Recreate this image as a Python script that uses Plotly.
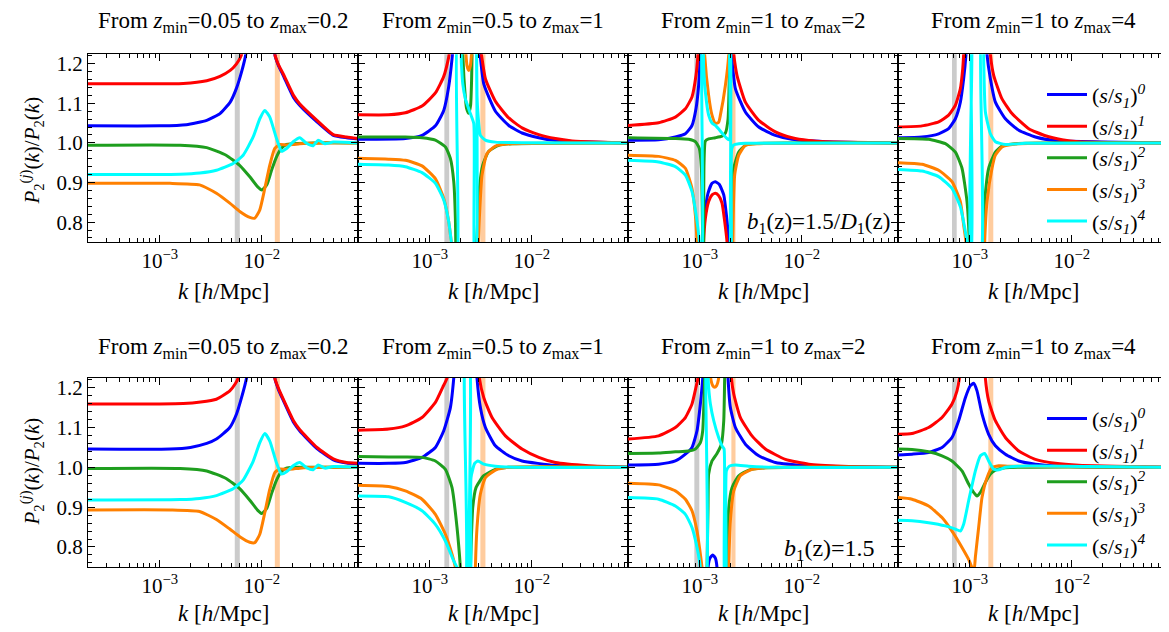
import plotly.graph_objects as go

FONT = "Liberation Serif"

SERIES = [
    "(<i>s</i>/<i>s</i><sub><i>1</i></sub>)<sup><i>0</i></sup>",
    "(<i>s</i>/<i>s</i><sub><i>1</i></sub>)<sup><i>1</i></sup>",
    "(<i>s</i>/<i>s</i><sub><i>1</i></sub>)<sup><i>2</i></sup>",
    "(<i>s</i>/<i>s</i><sub><i>1</i></sub>)<sup><i>3</i></sup>",
    "(<i>s</i>/<i>s</i><sub><i>1</i></sub>)<sup><i>4</i></sup>",
]
COLORS = ["#0000ff", "#ff0000", "#1e9e1e", "#ff8000", "#00ffff"]

TITLES = [
    "From <i>z</i><sub>min</sub>=0.05 to <i>z</i><sub>max</sub>=0.2",
    "From <i>z</i><sub>min</sub>=0.5 to <i>z</i><sub>max</sub>=1",
    "From <i>z</i><sub>min</sub>=1 to <i>z</i><sub>max</sub>=2",
    "From <i>z</i><sub>min</sub>=1 to <i>z</i><sub>max</sub>=4",
]
BIAS_LABELS = [
    "<i>b</i><sub>1</sub>(z)=1.5/<i>D</i><sub>1</sub>(z)",
    "<i>b</i><sub>1</sub>(z)=1.5",
]
XTITLE = "<i>k</i> [<i>h</i>/Mpc]"
YTITLE = "<i>P</i><sub>2</sub><sup>(<i>j</i>)</sup>(<i>k</i>)/<i>P</i><sub>2</sub>(<i>k</i>)"

XTICK_VALS = [1e-3, 1e-2]
XTICK_TEXT = ["10<sup>\u22123</sup>", "10<sup>\u22122</sup>"]
YTICK_VALS = [0.8, 0.9, 1.0, 1.1, 1.2]
YTICK_TEXT = ["0.8", "0.9", "1.0", "1.1", "1.2"]

# shaded k-bands per column (k in h/Mpc)
GRAY_BAND_K = [(5.43e-3, 6.08e-3), (1.39e-3, 1.55e-3), (8.85e-4, 9.9e-4), (6.70e-4, 7.45e-4)]
ORANGE_BAND_K = [(1.34e-2, 1.50e-2), (3.13e-3, 3.51e-3), (2.04e-3, 2.24e-3), (1.52e-3, 1.70e-3)]

# ---- curves: (log10 k, ratio); None breaks the line ----
# Row 1 (b1 = 1.5/D1), column 1
R1C1_S0 = [(-3.706, 1.043), (-3.0, 1.043), (-2.74, 1.046), (-2.54, 1.057), (-2.41, 1.074), (-2.31, 1.103),
           (-2.25, 1.137), (-2.20, 1.178), (-2.157, 1.224), (-2.14, 1.27), None,
           (-1.885, 1.35), (-1.873, 1.224), (-1.84, 1.197), (-1.79, 1.170), (-1.69, 1.115), (-1.63, 1.095),
           (-1.46, 1.053), (-1.30, 1.019), (-1.17, 1.013), (-1.056, 1.010)]
R1C1_S1 = [(-3.706, 1.149), (-3.2, 1.149), (-2.77, 1.150), (-2.54, 1.157), (-2.41, 1.168), (-2.31, 1.183),
           (-2.25, 1.199), (-2.20, 1.222), (-2.17, 1.28), None,
           (-1.885, 1.35), (-1.873, 1.224), (-1.84, 1.199), (-1.79, 1.174), (-1.69, 1.120), (-1.63, 1.099),
           (-1.46, 1.057), (-1.30, 1.021), (-1.17, 1.015), (-1.056, 1.011)]
R1C1_S2 = [(-3.706, 0.994), (-2.8, 0.994), (-2.54, 0.988), (-2.35, 0.969), (-2.22, 0.944), (-2.12, 0.915),
           (-2.04, 0.889), (-2.00, 0.881), (-1.95, 0.895), (-1.905, 0.931), (-1.856, 0.965), (-1.81, 0.986),
           (-1.76, 0.996), (-1.69, 0.998), (-1.5, 1.0), (-1.056, 1.0)]
R1C1_S3 = [(-3.706, 0.898), (-2.9, 0.898), (-2.61, 0.894), (-2.445, 0.873), (-2.314, 0.848), (-2.216, 0.827),
           (-2.118, 0.812), (-2.069, 0.810), (-2.02, 0.831), (-1.971, 0.885), (-1.922, 0.944), (-1.873, 0.986),
           (-1.824, 0.996), (-1.758, 0.995), (-1.693, 0.996), (-1.628, 0.998), (-1.4, 1.0), (-1.056, 1.0)]
R1C1_S4 = [(-3.706, 0.920), (-2.8, 0.921), (-2.608, 0.924), (-2.445, 0.931), (-2.281, 0.948), (-2.183, 0.969),
           (-2.085, 1.015), (-2.02, 1.061), (-1.971, 1.082), (-1.922, 1.065), (-1.856, 1.011), (-1.807, 0.979),
           (-1.758, 0.986), (-1.693, 1.003), (-1.628, 1.013), (-1.562, 0.999), (-1.497, 0.993), (-1.448, 1.007),
           (-1.382, 0.998), (-1.30, 1.002), (-1.056, 1.0)]

# Row 1, column 2
R1C2_S0 = [(-3.703, 1.009), (-3.239, 1.011), (-3.076, 1.019), (-2.945, 1.043), (-2.863, 1.082), (-2.815, 1.141),
           (-2.782, 1.212), (-2.765, 1.262), None,
           (-2.527, 1.271), (-2.507, 1.223), (-2.471, 1.149), (-2.357, 1.080), (-2.226, 1.044), (-2.096, 1.025),
           (-1.932, 1.013), (-1.769, 1.006), (-1.442, 1.002), (-1.050, 1.0)]
R1C2_S1 = [(-3.703, 1.071), (-3.403, 1.071), (-3.239, 1.076), (-3.076, 1.093), (-2.945, 1.126), (-2.863, 1.168),
           (-2.815, 1.216), (-2.792, 1.254), None,
           (-2.520, 1.271), (-2.494, 1.223), (-2.455, 1.162), (-2.357, 1.105), (-2.226, 1.063), (-2.096, 1.038),
           (-1.932, 1.021), (-1.769, 1.011), (-1.605, 1.005), (-1.377, 1.002), (-1.050, 1.0)]
R1C2_S2 = [(-3.703, 1.015), (-3.239, 1.015), (-3.076, 1.013), (-2.945, 1.007), (-2.847, 0.990), (-2.798, 0.961),
           (-2.765, 0.902), (-2.749, 0.810), (-2.743, 0.684), None,
           (-2.684, 1.271), (-2.664, 1.16), (-2.640, 1.088), (-2.618, 1.075), (-2.600, 1.095), (-2.590, 1.16),
           (-2.582, 1.271), None,
           (-2.553, 0.684), (-2.537, 0.768), (-2.514, 0.885), (-2.481, 0.944), (-2.422, 0.979), (-2.324, 0.994),
           (-2.194, 0.998), (-1.050, 1.0)]
R1C2_S3 = [(-3.703, 0.961), (-3.403, 0.959), (-3.239, 0.956), (-3.076, 0.942), (-2.945, 0.910), (-2.863, 0.860),
           (-2.815, 0.802), (-2.782, 0.735), None,
           (-2.658, 1.271), (-2.635, 1.195), (-2.618, 1.183), (-2.602, 1.195), (-2.579, 1.271), None,
           (-2.533, 0.684), (-2.514, 0.810), (-2.488, 0.919), (-2.439, 0.973), (-2.357, 0.992), (-2.226, 0.998),
           (-1.050, 1.0)]
R1C2_S4 = [(-3.703, 0.946), (-3.403, 0.944), (-3.239, 0.940), (-3.076, 0.925), (-2.945, 0.898), (-2.863, 0.856),
           (-2.815, 0.802), (-2.775, 0.718), (-2.762, 0.684), (-2.733, 0.684), (-2.730, 1.271), (-2.703, 1.271),
           (-2.690, 1.20), (-2.677, 1.15), (-2.651, 1.111), (-2.602, 1.074), (-2.569, 1.049), (-2.560, 0.684),
           (-2.547, 0.684), (-2.543, 1.271), (-2.537, 1.12), (-2.527, 1.07), (-2.504, 1.019), (-2.455, 1.007),
           (-2.357, 1.002), (-1.050, 1.0)]

# Row 1, column 3
R1C3_S0 = [(-3.703, 1.007), (-3.403, 1.008), (-3.239, 1.015), (-3.141, 1.023), (-3.076, 1.044), (-3.037, 1.086),
           (-3.011, 1.145), (-2.994, 1.223), (-2.988, 1.262), None,
           (-2.975, 0.70), (-2.971, 0.750), (-2.952, 0.818), (-2.919, 0.873), (-2.880, 0.898), (-2.847, 0.902),
           (-2.808, 0.895), (-2.765, 0.869), (-2.739, 0.818), (-2.716, 0.750), (-2.712, 0.70), None,
           (-2.703, 1.271), (-2.690, 1.223), (-2.651, 1.137), (-2.553, 1.078), (-2.422, 1.040), (-2.259, 1.019),
           (-2.096, 1.009), (-1.769, 1.003), (-1.050, 1.0)]
R1C3_S1 = [(-3.703, 1.044), (-3.403, 1.051), (-3.239, 1.065), (-3.141, 1.086), (-3.076, 1.116), (-3.037, 1.170),
           (-3.017, 1.223), (-3.007, 1.262), None,
           (-2.965, 0.70), (-2.962, 0.750), (-2.945, 0.810), (-2.913, 0.852), (-2.880, 0.869), (-2.847, 0.873),
           (-2.815, 0.867), (-2.782, 0.848), (-2.756, 0.802), (-2.733, 0.750), (-2.727, 0.70), None,
           (-2.684, 1.271), (-2.667, 1.223), (-2.635, 1.170), (-2.553, 1.103), (-2.422, 1.057), (-2.259, 1.028),
           (-2.096, 1.013), (-1.932, 1.006), (-1.769, 1.003), (-1.050, 1.0)]
R1C3_S2 = [(-3.703, 1.013), (-3.239, 1.011), (-3.109, 1.009), (-3.043, 1.003), (-3.004, 0.986), (-2.984, 0.936),
           (-2.971, 0.750), (-2.968, 0.70), None,
           (-2.962, 0.70), (-2.958, 0.95), (-2.945, 1.005), (-2.913, 1.010), (-2.847, 1.013), (-2.782, 1.017),
           (-2.749, 1.025), (-2.723, 1.06), (-2.712, 1.15), (-2.706, 1.271), None,
           (-2.693, 0.70), (-2.690, 0.750), (-2.667, 0.935), (-2.618, 0.977), (-2.553, 0.994), (-2.488, 0.998),
           (-1.050, 1.0)]
R1C3_S3 = [(-3.703, 0.969), (-3.403, 0.966), (-3.239, 0.956), (-3.141, 0.936), (-3.076, 0.885), (-3.043, 0.818),
           (-3.027, 0.750), (-3.02, 0.70), None,
           (-2.958, 1.271), (-2.952, 1.223), (-2.913, 1.120), (-2.880, 1.07), (-2.847, 1.049), (-2.815, 1.052),
           (-2.798, 1.070), (-2.749, 1.145), (-2.716, 1.223), (-2.710, 1.271), None,
           (-2.680, 0.70), (-2.677, 0.750), (-2.658, 0.919), (-2.618, 0.969), (-2.553, 0.994), (-2.422, 0.998),
           (-1.050, 1.0)]
R1C3_S4 = [(-3.703, 0.956), (-3.403, 0.952), (-3.239, 0.940), (-3.141, 0.919), (-3.076, 0.877), (-3.027, 0.802),
           (-3.004, 0.750), (-2.998, 0.70), (-2.981, 0.70), (-2.978, 1.271), (-2.971, 1.271), (-2.962, 1.19),
           (-2.945, 1.128), (-2.913, 1.07), (-2.880, 1.05), (-2.847, 1.044), (-2.782, 1.025), (-2.733, 1.011),
           (-2.710, 1.008), (-2.706, 1.271), (-2.700, 1.271), (-2.697, 0.70), (-2.693, 0.70), (-2.687, 0.985),
           (-2.667, 0.995), (-2.618, 0.998), (-2.553, 0.999), (-1.050, 1.0)]

# Row 1, column 4
R1C4_S0 = [(-3.703, 1.013), (-3.468, 1.015), (-3.305, 1.023), (-3.207, 1.036), (-3.141, 1.061), (-3.092, 1.103),
           (-3.060, 1.162), (-3.037, 1.223), (-3.030, 1.26), None,
           (-2.84, 1.271), (-2.831, 1.223), (-2.798, 1.162), (-2.749, 1.103), (-2.651, 1.061), (-2.520, 1.032),
           (-2.357, 1.015), (-2.161, 1.006), (-1.050, 1.0)]
R1C4_S1 = [(-3.703, 1.040), (-3.468, 1.043), (-3.305, 1.053), (-3.207, 1.070), (-3.141, 1.095), (-3.092, 1.137),
           (-3.069, 1.187), (-3.060, 1.223), (-3.053, 1.26), None,
           (-2.81, 1.271), (-2.798, 1.223), (-2.765, 1.170), (-2.684, 1.111), (-2.586, 1.074), (-2.422, 1.036),
           (-2.259, 1.018), (-2.096, 1.008), (-1.932, 1.003), (-1.050, 1.0)]
R1C4_S2 = [(-3.703, 1.011), (-3.403, 1.009), (-3.239, 0.998), (-3.141, 0.977), (-3.076, 0.936), (-3.027, 0.852),
           (-3.004, 0.750), (-3.00, 0.70), None,
           (-2.877, 0.70), (-2.873, 0.750), (-2.854, 0.852), (-2.815, 0.936), (-2.749, 0.977), (-2.684, 0.992),
           (-2.553, 0.998), (-1.050, 1.0)]
R1C4_S3 = [(-3.703, 0.950), (-3.468, 0.946), (-3.305, 0.931), (-3.174, 0.902), (-3.092, 0.852), (-3.060, 0.793),
           (-3.037, 0.750), (-3.03, 0.70), None,
           (-2.858, 0.70), (-2.854, 0.750), (-2.831, 0.852), (-2.782, 0.936), (-2.749, 0.969), (-2.684, 0.990),
           (-2.553, 0.997), (-2.357, 0.999), (-1.050, 1.0)]
R1C4_S4 = [(-3.703, 0.933), (-3.468, 0.929), (-3.305, 0.915), (-3.174, 0.885), (-3.092, 0.839), (-3.043, 0.776),
           (-3.027, 0.750), (-3.02, 0.70), (-2.990, 0.70), (-2.986, 1.271), (-2.980, 1.271), (-2.976, 0.70),
           (-2.895, 0.70), (-2.889, 1.271), (-2.870, 1.271), (-2.863, 1.20), (-2.847, 1.078), (-2.798, 1.023),
           (-2.749, 1.003), (-2.651, 0.996), (-2.455, 0.999), (-1.050, 1.0)]

# Row 2 (b1 = 1.5), column 1
R2C1_S0 = [(-3.706, 1.046), (-2.9, 1.046), (-2.7, 1.050), (-2.54, 1.060), (-2.445, 1.071), (-2.314, 1.100),
           (-2.248, 1.134), (-2.199, 1.175), (-2.150, 1.224), (-2.13, 1.26), None,
           (-1.885, 1.35), (-1.873, 1.224), (-1.84, 1.197), (-1.79, 1.168), (-1.69, 1.113), (-1.63, 1.092),
           (-1.46, 1.047), (-1.30, 1.019), (-1.17, 1.011), (-1.056, 1.009)]
R2C1_S1 = [(-3.706, 1.159), (-3.0, 1.159), (-2.77, 1.160), (-2.6, 1.164), (-2.445, 1.171), (-2.314, 1.192),
           (-2.26, 1.21), (-2.232, 1.224), (-2.20, 1.26), None,
           (-1.885, 1.35), (-1.873, 1.224), (-1.84, 1.200), (-1.79, 1.171), (-1.69, 1.117), (-1.63, 1.095),
           (-1.46, 1.050), (-1.30, 1.021), (-1.17, 1.012), (-1.056, 1.010)]
R2C1_S2 = [(-3.706, 0.997), (-2.8, 0.997), (-2.54, 0.991), (-2.35, 0.972), (-2.22, 0.947), (-2.12, 0.918),
           (-2.04, 0.892), (-2.00, 0.884), (-1.95, 0.898), (-1.905, 0.934), (-1.856, 0.968), (-1.81, 0.989),
           (-1.76, 0.998), (-1.69, 1.0), (-1.5, 1.0), (-1.056, 1.0)]
R2C1_S3 = [(-3.706, 0.893), (-2.9, 0.893), (-2.61, 0.889), (-2.445, 0.869), (-2.314, 0.845), (-2.216, 0.826),
           (-2.118, 0.812), (-2.069, 0.811), (-2.02, 0.832), (-1.971, 0.886), (-1.922, 0.945), (-1.873, 0.987),
           (-1.824, 0.996), (-1.758, 0.995), (-1.693, 0.996), (-1.628, 0.998), (-1.4, 1.0), (-1.056, 1.0)]
R2C1_S4 = [(-3.706, 0.918), (-2.8, 0.919), (-2.608, 0.922), (-2.445, 0.929), (-2.281, 0.946), (-2.183, 0.968),
           (-2.085, 1.015), (-2.02, 1.062), (-1.971, 1.085), (-1.922, 1.066), (-1.856, 1.011), (-1.807, 0.983),
           (-1.758, 0.989), (-1.693, 1.004), (-1.628, 1.012), (-1.562, 0.999), (-1.497, 0.994), (-1.448, 1.006),
           (-1.382, 0.998), (-1.30, 1.002), (-1.056, 1.0)]

# Row 2, column 2
R2C2_S0 = [(-3.703, 1.010), (-3.403, 1.010), (-3.239, 1.012), (-3.076, 1.025), (-2.945, 1.050), (-2.863, 1.092),
           (-2.798, 1.150), (-2.765, 1.224), (-2.756, 1.26), None,
           (-2.547, 1.28), (-2.537, 1.224), (-2.504, 1.150), (-2.455, 1.100), (-2.357, 1.054), (-2.226, 1.029),
           (-2.096, 1.016), (-1.769, 1.005), (-1.050, 1.0)]
R2C2_S1 = [(-3.703, 1.093), (-3.403, 1.096), (-3.239, 1.104), (-3.076, 1.125), (-2.945, 1.163), (-2.873, 1.201),
           (-2.831, 1.224), (-2.815, 1.26), None,
           (-2.527, 1.28), (-2.514, 1.224), (-2.471, 1.175), (-2.390, 1.125), (-2.259, 1.079), (-2.096, 1.046),
           (-1.932, 1.025), (-1.769, 1.012), (-1.442, 1.004), (-1.050, 1.0)]
R2C2_S2 = [(-3.703, 1.027), (-3.403, 1.026), (-3.239, 1.026), (-3.076, 1.025), (-2.945, 1.016), (-2.847, 0.995),
           (-2.782, 0.949), (-2.733, 0.849), (-2.700, 0.748), (-2.69, 0.70), None,
           (-2.609, 0.70), (-2.602, 0.748), (-2.579, 0.899), (-2.547, 0.949), (-2.471, 0.979), (-2.357, 0.995),
           (-2.226, 1.0), (-1.050, 1.0)]
R2C2_S3 = [(-3.703, 0.955), (-3.403, 0.952), (-3.239, 0.941), (-3.076, 0.920), (-2.945, 0.882), (-2.847, 0.832),
           (-2.782, 0.782), (-2.749, 0.748), (-2.74, 0.70), None,
           (-2.556, 0.70), (-2.553, 0.748), (-2.537, 0.849), (-2.504, 0.933), (-2.455, 0.974), (-2.357, 0.993),
           (-2.226, 1.0), (-1.050, 1.0)]
R2C2_S4 = [(-3.703, 0.928), (-3.403, 0.926), (-3.239, 0.912), (-3.076, 0.891), (-2.945, 0.857), (-2.847, 0.815),
           (-2.765, 0.765), (-2.733, 0.748), (-2.72, 0.70), (-2.655, 0.70), (-2.651, 1.28), (-2.615, 1.28),
           (-2.612, 0.70), (-2.602, 0.70), (-2.596, 0.974), (-2.560, 1.010), (-2.527, 1.016), (-2.471, 1.008),
           (-2.357, 1.003), (-2.096, 1.0), (-1.050, 1.0)]

# Row 2, column 3
R2C3_S0 = [(-3.703, 1.006), (-3.403, 1.008), (-3.239, 1.016), (-3.141, 1.033), (-3.076, 1.050), (-3.027, 1.092),
           (-2.994, 1.159), (-2.971, 1.224), (-2.965, 1.26), None,
           (-2.922, 0.70), (-2.919, 0.748), (-2.900, 0.772), (-2.873, 0.780), (-2.847, 0.772), (-2.831, 0.748),
           (-2.828, 0.70), None,
           (-2.730, 1.28), (-2.723, 1.224), (-2.700, 1.150), (-2.651, 1.100), (-2.553, 1.058), (-2.422, 1.029),
           (-2.259, 1.012), (-1.932, 1.004), (-1.050, 1.0)]
R2C3_S1 = [(-3.703, 1.071), (-3.403, 1.079), (-3.239, 1.100), (-3.141, 1.125), (-3.076, 1.159), (-3.037, 1.201),
           (-3.017, 1.224), (-3.008, 1.26), None,
           (-2.70, 1.28), (-2.690, 1.224), (-2.667, 1.184), (-2.602, 1.125), (-2.488, 1.079), (-2.357, 1.046),
           (-2.161, 1.020), (-1.932, 1.008), (-1.605, 1.003), (-1.050, 1.0)]
R2C3_S2 = [(-3.703, 1.035), (-3.403, 1.036), (-3.239, 1.039), (-3.109, 1.041), (-3.043, 1.046), (-2.994, 1.062),
           (-2.971, 1.092), (-2.952, 1.224), (-2.945, 1.28), None,
           (-2.932, 0.70), (-2.929, 0.748), (-2.919, 0.90), (-2.913, 0.983), (-2.880, 1.016), (-2.831, 1.035),
           (-2.788, 1.058), (-2.765, 1.117), (-2.756, 1.224), (-2.752, 1.28), None,
           (-2.736, 0.70), (-2.733, 0.748), (-2.716, 0.899), (-2.684, 0.949), (-2.618, 0.979), (-2.520, 0.993),
           (-2.357, 0.999), (-1.050, 1.0)]
R2C3_S3 = [(-3.703, 0.960), (-3.403, 0.956), (-3.239, 0.941), (-3.141, 0.920), (-3.076, 0.891), (-3.027, 0.840),
           (-2.994, 0.782), (-2.978, 0.748), (-2.972, 0.70), None,
           (-2.899, 1.28), (-2.893, 1.224), (-2.873, 1.205), (-2.854, 1.201), (-2.835, 1.205), (-2.815, 1.224),
           (-2.808, 1.28), None,
           (-2.719, 0.70), (-2.716, 0.748), (-2.700, 0.866), (-2.667, 0.941), (-2.602, 0.979), (-2.488, 0.995),
           (-2.259, 1.0), (-1.050, 1.0)]
R2C3_S4 = [(-3.703, 0.924), (-3.403, 0.920), (-3.239, 0.903), (-3.141, 0.882), (-3.076, 0.849), (-3.027, 0.799),
           (-2.994, 0.748), (-2.988, 0.70), (-2.942, 0.70), (-2.939, 1.28), (-2.932, 1.28), (-2.913, 1.20),
           (-2.896, 1.159), (-2.863, 1.117), (-2.815, 1.075), (-2.782, 1.054), (-2.762, 1.046), (-2.756, 0.70),
           (-2.746, 0.70), (-2.739, 0.991), (-2.710, 1.003), (-2.651, 1.006), (-2.520, 1.003), (-2.259, 1.0),
           (-1.050, 1.0)]

# Row 2, column 4
R2C4_S0 = [(-3.703, 1.031), (-3.566, 1.033), (-3.403, 1.037), (-3.272, 1.050), (-3.174, 1.075), (-3.109, 1.117),
           (-3.043, 1.175), (-2.994, 1.205), (-2.962, 1.211), (-2.929, 1.192), (-2.880, 1.134), (-2.815, 1.083),
           (-2.749, 1.054), (-2.651, 1.033), (-2.520, 1.016), (-2.357, 1.008), (-2.096, 1.003), (-1.050, 1.0)]
R2C4_S1 = [(-3.703, 1.083), (-3.566, 1.085), (-3.403, 1.100), (-3.272, 1.125), (-3.174, 1.159), (-3.125, 1.192),
           (-3.102, 1.224), (-3.095, 1.26), None,
           (-2.855, 1.28), (-2.847, 1.224), (-2.815, 1.167), (-2.749, 1.117), (-2.651, 1.075), (-2.520, 1.041),
           (-2.357, 1.020), (-2.161, 1.010), (-1.932, 1.005), (-1.050, 1.0)]
R2C4_S2 = [(-3.703, 1.046), (-3.566, 1.045), (-3.403, 1.039), (-3.272, 1.029), (-3.174, 1.016), (-3.076, 0.991),
           (-3.011, 0.958), (-2.962, 0.937), (-2.929, 0.928), (-2.896, 0.937), (-2.847, 0.962), (-2.798, 0.983),
           (-2.749, 0.993), (-2.651, 0.999), (-1.050, 1.0)]
R2C4_S3 = [(-3.703, 0.924), (-3.566, 0.920), (-3.403, 0.903), (-3.272, 0.874), (-3.174, 0.840), (-3.076, 0.799),
           (-3.011, 0.769), (-2.971, 0.744), (-2.958, 0.741), (-2.945, 0.775), (-2.913, 0.849), (-2.880, 0.924),
           (-2.831, 0.974), (-2.782, 0.999), (-2.716, 1.004), (-2.618, 1.003), (-1.050, 1.0)]
R2C4_S4 = [(-3.703, 0.867), (-3.566, 0.866), (-3.403, 0.861), (-3.239, 0.853), (-3.141, 0.845), (-3.092, 0.840),
           (-3.060, 0.857), (-3.011, 0.916), (-2.945, 0.991), (-2.896, 1.029), (-2.854, 1.035), (-2.815, 1.016),
           (-2.765, 0.995), (-2.716, 0.994), (-2.651, 1.000), (-2.520, 1.003), (-1.050, 1.0)]

PANELS = [
    [R1C1_S0, R1C1_S1, R1C1_S2, R1C1_S3, R1C1_S4],
    [R1C2_S0, R1C2_S1, R1C2_S2, R1C2_S3, R1C2_S4],
    [R1C3_S0, R1C3_S1, R1C3_S2, R1C3_S3, R1C3_S4],
    [R1C4_S0, R1C4_S1, R1C4_S2, R1C4_S3, R1C4_S4],
    [R2C1_S0, R2C1_S1, R2C1_S2, R2C1_S3, R2C1_S4],
    [R2C2_S0, R2C2_S1, R2C2_S2, R2C2_S3, R2C2_S4],
    [R2C3_S0, R2C3_S1, R2C3_S2, R2C3_S3, R2C3_S4],
    [R2C4_S0, R2C4_S1, R2C4_S2, R2C4_S3, R2C4_S4],
]

# ---------------- layout geometry (screen pixels) ----------------
PAGE_OFF = 8                      # the page body margin shifts the figure by 8 px
W, H = 1169 - PAGE_OFF, 632 - PAGE_OFF
PANEL_LEFT = [88, 358, 628, 898]
PANEL_W = 270
ROW_TOP = [52.3, 377.3]
ROW_BOT = [240.7, 566.7]
XRANGE = [-3.703, -1.058]
YRANGE = [0.75, 1.224]

MINOR_X = [m * 10.0 ** e for e in (-4, -3, -2) for m in range(2, 10)]


def px(x):
    return (x - PAGE_OFF) / W


def py(y):
    return 1 - (y - PAGE_OFF) / H


def tfont(size):
    return dict(family=FONT, size=size, color="black")


fig = go.Figure()
annotations = []
axes = {}

for p in range(8):
    row, col = divmod(p, 4)
    ax = "" if p == 0 else str(p + 1)
    xa, ya = "x" + ax, "y" + ax
    for (k0, k1), colr in ((GRAY_BAND_K[col], "#cbcbcb"), (ORANGE_BAND_K[col], "#ffcc9e")):
        fig.add_trace(go.Scatter(x=[k0, k1, k1, k0, k0], y=[0.6, 0.6, 1.4, 1.4, 0.6], fill="toself",
                                 fillcolor=colr, line=dict(width=0), mode="lines", hoverinfo="skip",
                                 showlegend=False, xaxis=xa, yaxis=ya))
    for j, curve in enumerate(PANELS[p]):
        xs = [None if pt is None else 10 ** pt[0] for pt in curve]
        ys = [None if pt is None else pt[1] for pt in curve]
        fig.add_trace(go.Scatter(
            x=xs, y=ys, mode="lines", name=SERIES[j],
            line=dict(color=COLORS[j], width=3, shape="spline", smoothing=0.5),
            xaxis=xa, yaxis=ya, hoverinfo="skip",
            showlegend=(col == 3), legend=("legend" if row == 0 else "legend2"),
            legendgroup=f"r{row}s{j}",
        ))
    axes["xaxis" + ax] = dict(
        type="log", range=XRANGE, domain=[px(PANEL_LEFT[col]), px(PANEL_LEFT[col] + PANEL_W)], anchor=ya,
        showline=True, linecolor="black", linewidth=1.3, mirror="allticks",
        ticks="inside", ticklen=7, tickwidth=1, tickcolor="black",
        tickmode="array", tickvals=XTICK_VALS, ticktext=XTICK_TEXT,
        minor=dict(ticks="inside", ticklen=4, tickwidth=1, tickcolor="black",
                   tickmode="array", tickvals=MINOR_X),
        showgrid=False, zeroline=False, tickfont=tfont(21),
    )
    axes["yaxis" + ax] = dict(
        range=YRANGE, domain=[py(ROW_BOT[row]), py(ROW_TOP[row])], anchor=xa,
        showline=True, linecolor="black", linewidth=1.3, mirror="allticks",
        ticks="inside", ticklen=7, tickwidth=1, tickcolor="black",
        tickmode="array", tickvals=YTICK_VALS, ticktext=YTICK_TEXT,
        showticklabels=(col == 0),
        minor=dict(ticks="inside", ticklen=4, tickwidth=1, tickcolor="black", dtick=0.02, tick0=0.8),
        showgrid=False, zeroline=False, tickfont=tfont(21),
    )
    cx = px(PANEL_LEFT[col] + PANEL_W / 2)
    annotations.append(dict(text=TITLES[col], x=cx, y=py([20, 347][row]), xref="paper", yref="paper",
                            showarrow=False, xanchor="center", yanchor="middle", font=tfont(23)))
    annotations.append(dict(text=XTITLE, x=cx, y=py([290, 613][row]), xref="paper", yref="paper",
                            showarrow=False, xanchor="center", yanchor="middle", font=tfont(23)))

for row in range(2):
    annotations.append(dict(text=YTITLE, x=px(32), y=py([149, 471][row]), xref="paper", yref="paper",
                            showarrow=False, textangle=-90, xanchor="center", yanchor="middle",
                            font=tfont(21)))
annotations.append(dict(text=BIAS_LABELS[0], x=px(892), y=py(222), xref="paper", yref="paper",
                        showarrow=False, xanchor="right", yanchor="middle", font=tfont(23)))
annotations.append(dict(text=BIAS_LABELS[1], x=px(877), y=py(550), xref="paper", yref="paper",
                        showarrow=False, xanchor="right", yanchor="middle", font=tfont(24)))

fig.update_layout(
    width=W, height=H, margin=dict(l=0, r=0, t=0, b=0),
    paper_bgcolor="white", plot_bgcolor="white",
    annotations=annotations, showlegend=True,
    legend=dict(x=px(1042), y=py(72), xanchor="left", yanchor="top", bgcolor="rgba(0,0,0,0)",
                font=tfont(22), tracegroupgap=0, itemwidth=40),
    legend2=dict(x=px(1042), y=py(397), xanchor="left", yanchor="top", bgcolor="rgba(0,0,0,0)",
                 font=tfont(22), tracegroupgap=0, itemwidth=40),
    **axes,
)
fig.write_html("out.html")
